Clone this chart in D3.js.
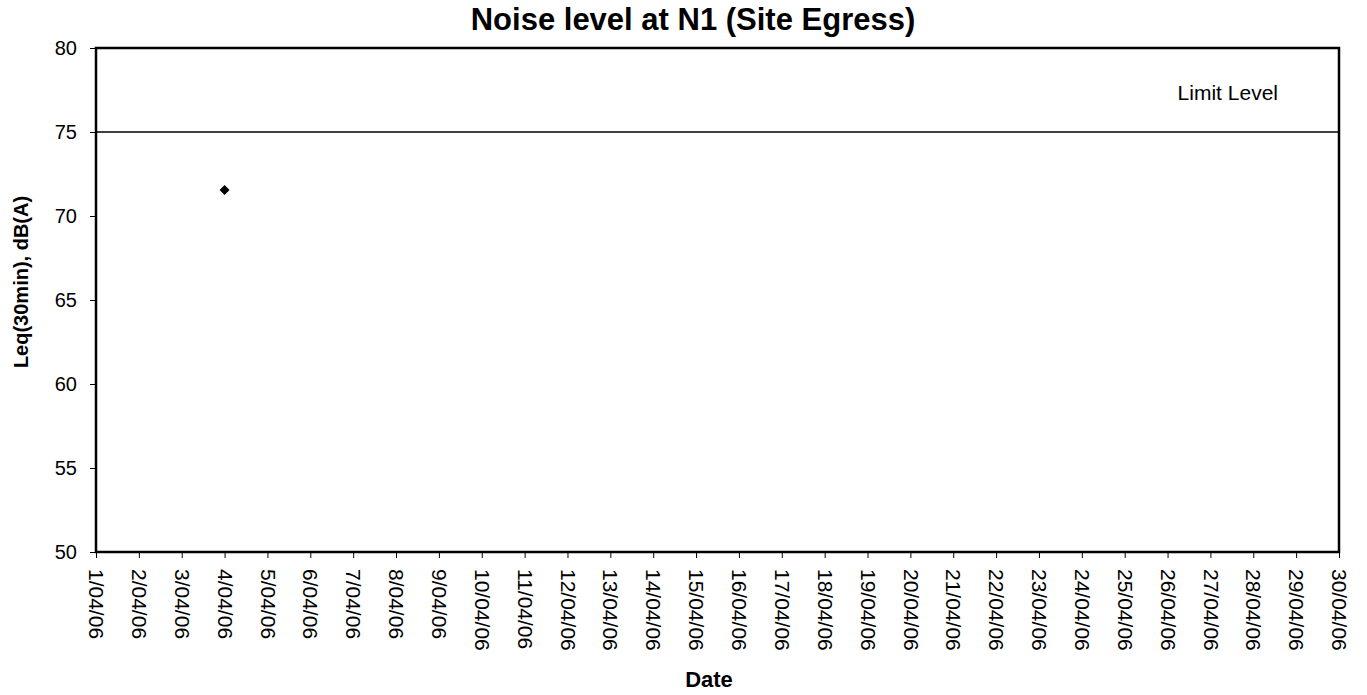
<!DOCTYPE html>
<html>
<head>
<meta charset="utf-8">
<script src="https://cdn.jsdelivr.net/npm/d3@7"></script>
<style>
  body { margin: 0; background: #fff; }
  text { font-family: "Liberation Sans", Arial, sans-serif; fill: #000; }
</style>
</head>
<body>
<div id="chart"></div>
<script>
// data
const dates = ["1/04/06","2/04/06","3/04/06","4/04/06","5/04/06","6/04/06","7/04/06","8/04/06","9/04/06","10/04/06",
  "11/04/06","12/04/06","13/04/06","14/04/06","15/04/06","16/04/06","17/04/06","18/04/06","19/04/06","20/04/06",
  "21/04/06","22/04/06","23/04/06","24/04/06","25/04/06","26/04/06","27/04/06","28/04/06","29/04/06","30/04/06"];
const measuredDates = ["4/04/06"];
const measuredValues = [71.55];
const limitLevel = 75;
const yTicks = [50, 55, 60, 65, 70, 75, 80];

const W = 1367, H = 695;
const margin = { top: 48, right: 28, bottom: 143, left: 96 };
const width = W - margin.left - margin.right;
const height = H - margin.top - margin.bottom;

const svg = d3.select("#chart").append("svg")
  .attr("width", W).attr("height", H);

const g = svg.append("g")
  .attr("transform", `translate(${margin.left},${margin.top})`);

// scales
const x = d3.scalePoint().domain(dates).range([0, width]);
const y = d3.scaleLinear().domain([50, 80]).range([height, 0]);

// frame
g.append("rect")
  .attr("width", width).attr("height", height)
  .attr("fill", "none").attr("stroke", "#000").attr("stroke-width", 2.5);

// axes
const yAxis = g.append("g")
  .call(d3.axisLeft(y).tickValues(yTicks).tickSize(6).tickPadding(13));
yAxis.select(".domain").remove();
yAxis.selectAll("text").style("font-size", "20px");
yAxis.selectAll("line").attr("stroke", "#000");

const xAxis = g.append("g")
  .attr("transform", `translate(0,${height})`)
  .call(d3.axisBottom(x).tickSize(6));
xAxis.select(".domain").remove();
xAxis.selectAll("text")
  .style("font-size", "21px")
  .attr("text-anchor", "start")
  .attr("transform", "rotate(90)")
  .attr("x", 17)
  .attr("y", 0)
  .attr("dy", "0.35em");

// limit line
g.append("line")
  .attr("x1", 0).attr("x2", width)
  .attr("y1", y(limitLevel)).attr("y2", y(limitLevel))
  .attr("stroke", "#000").attr("stroke-width", 1.5);

g.append("text")
  .attr("x", width - 61).attr("y", y(limitLevel) - 32)
  .attr("text-anchor", "end")
  .style("font-size", "21px")
  .text("Limit Level");

// measured points
g.selectAll(".pt")
  .data(measuredDates.map((d, i) => [d, measuredValues[i]]))
  .enter().append("path")
  .attr("class", "pt")
  .attr("d", d3.symbol(d3.symbolSquare, 50))
  .attr("transform", d => `translate(${x(d[0])},${y(d[1])}) rotate(45)`)
  .attr("fill", "#000");

// title and labels
svg.append("text")
  .attr("x", 693).attr("y", 30)
  .attr("text-anchor", "middle")
  .style("font-size", "31px").style("font-weight", "bold")
  .text("Noise level at N1 (Site Egress)");

svg.append("text")
  .attr("transform", `translate(28,282) rotate(-90)`)
  .attr("text-anchor", "middle")
  .style("font-size", "20px").style("font-weight", "bold")
  .text("Leq(30min), dB(A)");

svg.append("text")
  .attr("x", 709).attr("y", 687)
  .attr("text-anchor", "middle")
  .style("font-size", "22px").style("font-weight", "bold")
  .text("Date");
</script>
</body>
</html>
